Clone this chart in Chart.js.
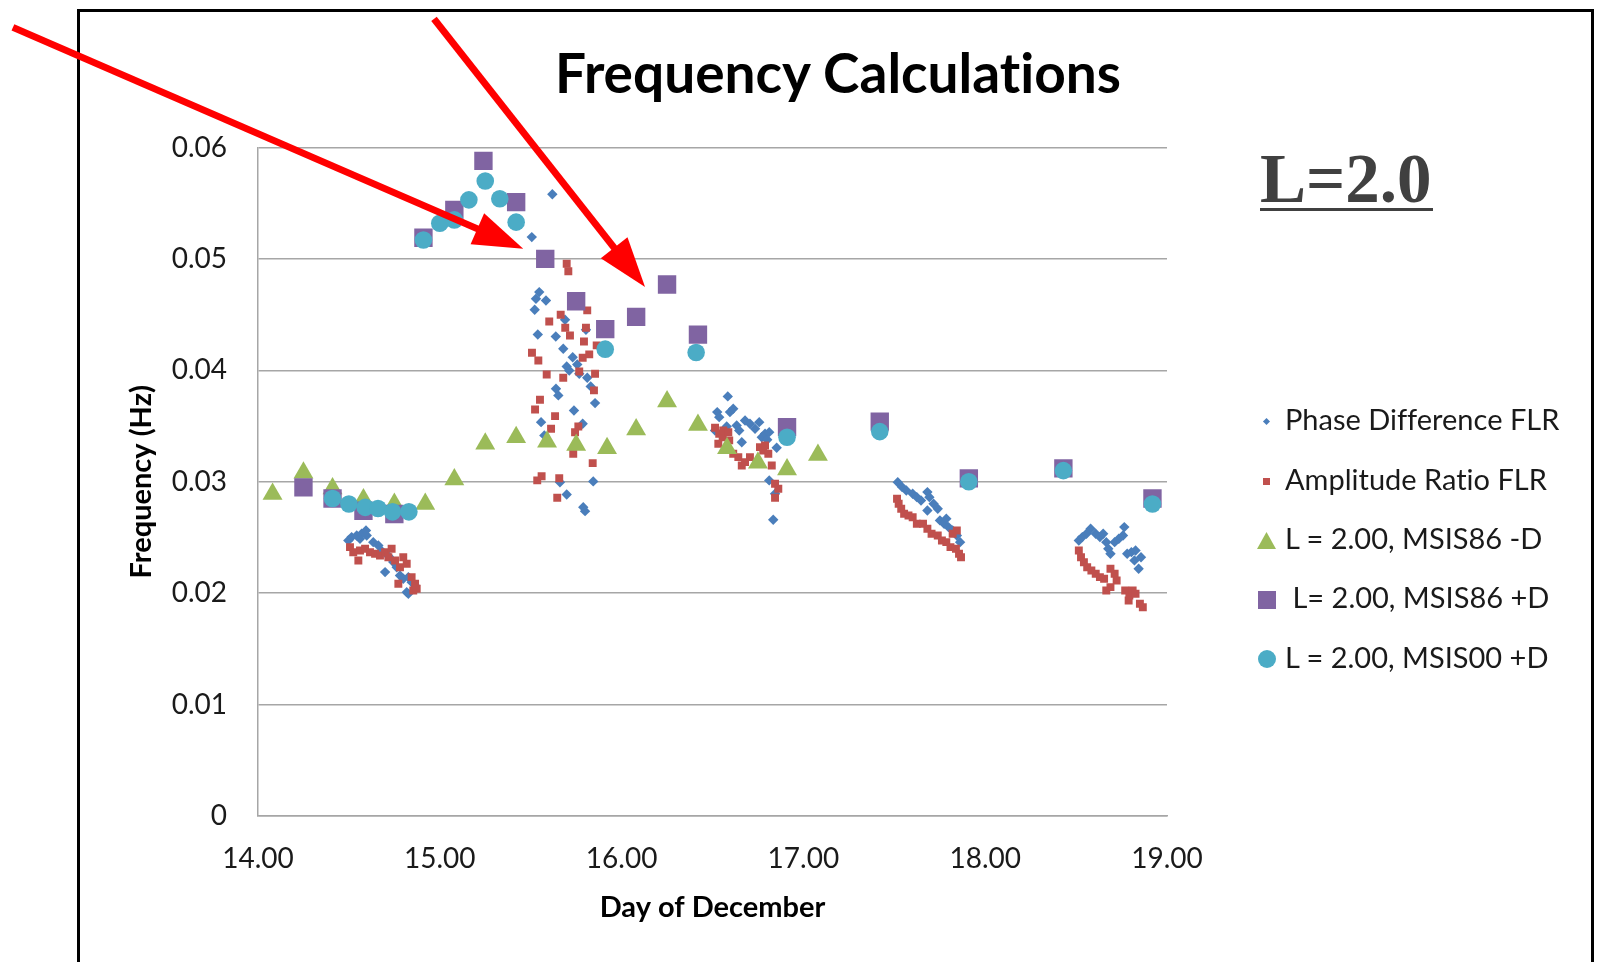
<!DOCTYPE html>
<html>
<head>
<meta charset="utf-8">
<script src="https://cdn.jsdelivr.net/npm/chart.js@4.4.1/dist/chart.umd.min.js"></script>
<style>
  html, body { margin: 0; padding: 0; background: #fff; overflow: hidden; }
  body { width: 1604px; height: 962px; position: relative; font-family: Lato, sans-serif; }
  #frame { position: absolute; left: 77px; top: 9px; width: 1511px; height: 1000px; border: 3px solid #000; }
  #chart { position: absolute; left: 0; top: 0; }
  .txt { position: absolute; white-space: pre; line-height: 1; }
  #title { font: bold 55px Lato; font-variant-ligatures: none; font-feature-settings: "liga" 0, "clig" 0; color: #000; top: 39px; left: 838px; transform: translateX(-50%); }
  #lval { font: bold 69px "Liberation Serif"; color: #404040; left: 1260px; top: 140px; }
  #lline { position: absolute; left: 1260px; top: 207.5px; width: 173px; height: 3px; background: #404040; }
  .leg-text { font: 29px Lato; font-variant-ligatures: none; color: #1a1a1a; left: 1285px; }
  .mk { position: absolute; }
</style>
</head>
<body>
<div id="frame"></div>
<canvas id="chart" width="1604" height="962"></canvas>
<div id="title" class="txt">Frequency Calculations</div>
<div id="lval" class="txt">L=2.0</div>
<div id="lline"></div>
<div id="legend"></div>
<script>
// ---- data ----
const phaseDay = [
  14.497, 14.515, 14.543, 14.561, 14.570, 14.594, 14.598, 14.634, 14.662, 14.680, 14.699, 14.720, 14.744, 14.763, 14.781, 14.799, 14.818, 14.827, 14.827, 14.845, 14.864,
  15.506, 15.522, 15.529, 15.539, 15.547, 15.557, 15.575, 15.584, 15.619, 15.638, 15.639, 15.652, 15.661, 15.679, 15.689, 15.698, 15.698, 15.712, 15.731, 15.738, 15.756, 15.767, 15.786, 15.789, 15.799, 15.804, 15.811, 15.830, 15.844, 15.854,
  16.514, 16.526, 16.537, 16.578, 16.584, 16.596, 16.614, 16.633, 16.647, 16.661, 16.679, 16.706, 16.734, 16.757, 16.771, 16.789, 16.801, 16.812, 16.812, 16.834, 16.844, 16.853,
  17.519, 17.543, 17.566, 17.601, 17.624, 17.647, 17.682, 17.682, 17.693, 17.716, 17.739, 17.751, 17.774, 17.786, 17.798, 17.821, 17.844, 17.862,
  18.515, 18.534, 18.557, 18.580, 18.608, 18.631, 18.649, 18.666, 18.677, 18.689, 18.712, 18.735, 18.758, 18.765, 18.781, 18.804, 18.821, 18.827, 18.844, 18.857
];
const phaseFreq = [
  0.02473, 0.02503, 0.02518, 0.02488, 0.02533, 0.02563, 0.02518, 0.02458, 0.02428, 0.02380, 0.02189, 0.02330, 0.02279, 0.02233, 0.02159, 0.02129, 0.02009, 0.02144, 0.01994, 0.02099, 0.02069,
  0.05196, 0.04544, 0.04643, 0.04322, 0.04702, 0.03535, 0.03416, 0.04627, 0.05581, 0.04304, 0.03835, 0.03775, 0.02996, 0.04194, 0.04454, 0.02886, 0.04035, 0.03999, 0.04118, 0.03640, 0.04053, 0.03969, 0.03521, 0.02772, 0.02736, 0.04364, 0.03934, 0.03856, 0.03003, 0.03706,
  0.03460, 0.03625, 0.03580, 0.03496, 0.03766, 0.03625, 0.03655, 0.03505, 0.03460, 0.03355, 0.03550, 0.03521, 0.03476, 0.03535, 0.03400, 0.03431, 0.03377, 0.03445, 0.03012, 0.02659, 0.02892, 0.03305,
  0.02996, 0.02952, 0.02922, 0.02892, 0.02862, 0.02832, 0.02907, 0.02742, 0.02862, 0.02803, 0.02758, 0.02653, 0.02623, 0.02668, 0.02593, 0.02563, 0.02518, 0.02458,
  0.02473, 0.02503, 0.02533, 0.02578, 0.02533, 0.02503, 0.02533, 0.02458, 0.02399, 0.02354, 0.02458, 0.02488, 0.02518, 0.02593, 0.02354, 0.02368, 0.02294, 0.02383, 0.02219, 0.02323
];

const ampDay = [
  14.506, 14.524, 14.552, 14.561, 14.589, 14.616, 14.644, 14.671, 14.699, 14.717, 14.735, 14.754, 14.772, 14.781, 14.799, 14.818, 14.845, 14.854, 14.864, 14.873,
  15.507, 15.524, 15.536, 15.542, 15.551, 15.560, 15.588, 15.602, 15.612, 15.634, 15.646, 15.657, 15.665, 15.679, 15.690, 15.698, 15.707, 15.716, 15.734, 15.744, 15.762, 15.767, 15.786, 15.793, 15.804, 15.811, 15.822, 15.841, 15.848, 15.854, 15.863,
  16.514, 16.532, 16.537, 16.556, 16.559, 16.587, 16.592, 16.614, 16.642, 16.661, 16.679, 16.706, 16.761, 16.779, 16.789, 16.807, 16.826, 16.844, 16.844, 16.862,
  17.515, 17.524, 17.538, 17.554, 17.578, 17.601, 17.624, 17.658, 17.682, 17.705, 17.739, 17.762, 17.786, 17.809, 17.821, 17.839, 17.844, 17.856, 17.867,
  18.515, 18.527, 18.543, 18.561, 18.584, 18.608, 18.631, 18.654, 18.666, 18.689, 18.689, 18.712, 18.723, 18.770, 18.789, 18.793, 18.811, 18.827, 18.851, 18.867
];
const ampFreq = [
  0.02413, 0.02368, 0.02293, 0.02383, 0.02399, 0.02368, 0.02354, 0.02338, 0.02368, 0.02323, 0.02399, 0.02293, 0.02085, 0.02233, 0.02323, 0.02264, 0.02144, 0.02024, 0.02085, 0.02039,
  0.04158, 0.03649, 0.03012, 0.04089, 0.03736, 0.03050, 0.03963, 0.04439, 0.03476, 0.03589, 0.02856, 0.03032, 0.04499, 0.03934, 0.04382, 0.04957, 0.04890, 0.04313, 0.03251, 0.03445, 0.03496, 0.03990, 0.04113, 0.04259, 0.04382, 0.04538, 0.04143, 0.03167, 0.03820, 0.03969, 0.04224,
  0.03485, 0.03341, 0.03431, 0.03400, 0.03461, 0.03445, 0.03371, 0.03251, 0.03221, 0.03146, 0.03176, 0.03221, 0.03311, 0.03281, 0.03326, 0.03251, 0.03146, 0.02982, 0.02856, 0.02937,
  0.02847, 0.02803, 0.02758, 0.02713, 0.02697, 0.02682, 0.02623, 0.02623, 0.02578, 0.02533, 0.02518, 0.02473, 0.02458, 0.02413, 0.02533, 0.02399, 0.02563, 0.02354, 0.02323,
  0.02383, 0.02323, 0.02278, 0.02233, 0.02204, 0.02174, 0.02144, 0.02129, 0.02024, 0.02219, 0.02054, 0.02174, 0.02114, 0.02024, 0.01934, 0.01979, 0.02024, 0.01995, 0.01905, 0.01874
];

const msis86NoDDay = [14.08, 14.25, 14.41, 14.58, 14.75, 14.92, 15.08, 15.25, 15.42, 15.59, 15.75, 15.92, 16.08, 16.25, 16.42, 16.58, 16.75, 16.91, 17.08];
const msis86NoDFreq = [0.0289, 0.0308, 0.0294, 0.0284, 0.0280, 0.0280, 0.0302, 0.0334, 0.0340, 0.0336, 0.0333, 0.0330, 0.0347, 0.0372, 0.0351, 0.0330, 0.0317, 0.0311, 0.0324];

const msis86DDay = [14.25, 14.41, 14.58, 14.75, 14.91, 15.08, 15.24, 15.42, 15.58, 15.75, 15.91, 16.08, 16.25, 16.42, 16.91, 17.42, 17.91, 18.43, 18.92];
const msis86DFreq = [0.0295, 0.0285, 0.0274, 0.0271, 0.0519, 0.0544, 0.0588, 0.0551, 0.0500, 0.0462, 0.0437, 0.0448, 0.0477, 0.0432, 0.0349, 0.0354, 0.0303, 0.0312, 0.0285];

const msis00DDay = [14.41, 14.50, 14.59, 14.66, 14.74, 14.83, 14.91, 15.00, 15.08, 15.16, 15.25, 15.33, 15.42, 15.91, 16.41, 16.91, 17.42, 17.91, 18.43, 18.92];
const msis00DFreq = [0.0285, 0.0280, 0.0277, 0.0276, 0.0273, 0.0273, 0.0517, 0.0532, 0.0535, 0.0553, 0.0570, 0.0554, 0.0533, 0.0419, 0.0416, 0.0340, 0.0345, 0.0300, 0.0310, 0.0280];

const seriesNames = ['Phase Difference FLR', 'Amplitude Ratio FLR', 'L = 2.00, MSIS86 -D', ' L= 2.00, MSIS86 +D', 'L = 2.00, MSIS00 +D'];
const xTicks = [14, 15, 16, 17, 18, 19];
const yTicks = [0, 0.01, 0.02, 0.03, 0.04, 0.05, 0.06];

// red call-out arrows, tail -> tip in axis units
const arrows = [
  { from: [12.652, 0.07078], to: [15.459, 0.05092] },
  { from: [14.968, 0.07154], to: [16.129, 0.04747] },
];

const colors = {
  blue: '#4a7ebb',
  red: '#c0504d',
  green: '#9bbb59',
  purple: '#8064a2',
  cyan: '#4bacc6',
};

const pts = (xs, ys) => xs.map((x, i) => ({ x, y: ys[i] }));

const series = [
  { name: seriesNames[0], data: pts(phaseDay, phaseFreq), color: colors.blue, style: 'rectRot', radius: 5.2, order: 5 },
  { name: seriesNames[1], data: pts(ampDay, ampFreq), color: colors.red, style: 'rect', radius: 5.6, order: 4 },
  { name: seriesNames[2], data: pts(msis86NoDDay, msis86NoDFreq), color: colors.green, style: 'triangle', radius: 11.5, order: 3 },
  { name: seriesNames[3], data: pts(msis86DDay, msis86DFreq), color: colors.purple, style: 'rect', radius: 13, order: 2 },
  { name: seriesNames[4], data: pts(msis00DDay, msis00DFreq), color: colors.cyan, style: 'circle', radius: 8.8, order: 1 },
];

const arrowPlugin = {
  id: 'arrows',
  afterDraw(chart) {
    const { ctx, scales: { x, y } } = chart;
    ctx.save();
    ctx.strokeStyle = '#ff0000';
    ctx.fillStyle = '#ff0000';
    ctx.lineWidth = 7;
    arrows.forEach(a => {
      const x0 = x.getPixelForValue(a.from[0]), y0 = y.getPixelForValue(a.from[1]);
      const x1 = x.getPixelForValue(a.to[0]), y1 = y.getPixelForValue(a.to[1]);
      const ang = Math.atan2(y1 - y0, x1 - x0);
      const headLen = 50, headHalf = 17;
      const bx = x1 - Math.cos(ang) * headLen, by = y1 - Math.sin(ang) * headLen;
      ctx.beginPath();
      ctx.moveTo(x0, y0);
      ctx.lineTo(bx + Math.cos(ang) * 4, by + Math.sin(ang) * 4);
      ctx.stroke();
      ctx.beginPath();
      ctx.moveTo(x1, y1);
      ctx.lineTo(bx - Math.sin(ang) * headHalf, by + Math.cos(ang) * headHalf);
      ctx.lineTo(bx + Math.sin(ang) * headHalf, by - Math.cos(ang) * headHalf);
      ctx.closePath();
      ctx.fill();
    });
    ctx.restore();
  }
};

const tickFont = { family: 'Lato', size: 28 };
const titleFont = { family: 'Lato', size: 29, weight: 'bold' };

new Chart(document.getElementById('chart'), {
  type: 'scatter',
  data: {
    datasets: series.map(s => ({
      label: s.name,
      data: s.data,
      pointStyle: s.style,
      pointRadius: s.radius,
      pointHoverRadius: s.radius,
      pointBackgroundColor: s.color,
      pointBorderColor: s.color,
      pointBorderWidth: 0,
      order: s.order,
    }))
  },
  options: {
    responsive: false,
    animation: false,
    layout: { padding: { left: 0, right: 437, top: 147.5, bottom: 0 } },
    plugins: {
      legend: { display: false },
      tooltip: { enabled: false },
    },
    scales: {
      x: {
        type: 'linear',
        min: xTicks[0],
        max: xTicks[xTicks.length - 1],
        afterBuildTicks: s => { s.ticks = xTicks.map(v => ({ value: v })); },
        ticks: { font: tickFont, color: '#1a1a1a', padding: 26, callback: v => v.toFixed(2) },
        grid: { display: false, drawTicks: false },
        border: { color: '#a6a6a6', width: 1.5 },
        title: { display: true, text: 'Day of December', font: titleFont, color: '#000', padding: { top: 0, bottom: 37 } },
        afterFit: s => { s.height = 146; },
      },
      y: {
        min: yTicks[0],
        max: yTicks[yTicks.length - 1],
        afterBuildTicks: s => { s.ticks = yTicks.map(v => ({ value: v })); },
        ticks: { font: tickFont, color: '#1a1a1a', padding: 31, callback: v => v === 0 ? '0' : v.toFixed(2) },
        grid: { color: '#a6a6a6', lineWidth: 1.5, drawTicks: false },
        border: { color: '#a6a6a6', width: 1.5 },
        title: { display: true, text: 'Frequency (Hz)', font: titleFont, color: '#000', padding: { top: 124, bottom: 0 } },
        afterFit: s => { s.width = 258; },
      }
    }
  },
  plugins: [arrowPlugin]
});

// ---- legend (html) ----
const legend = document.getElementById('legend');
const legendTop = 421.7, legendStep = 59.4, markerX = 1266.5;
const markerCss = {
  rectRot: 'width:5px;height:5px;transform:rotate(45deg);',
  rect: '',
  triangle: 'clip-path:polygon(50% 0,100% 100%,0 100%);',
  circle: 'border-radius:50%;',
};
const markerSize = [[5, 5], [7, 7], [19, 17], [18, 18], [18, 18]];
series.forEach((s, i) => {
  const cy = legendTop + i * legendStep;
  const [w, h] = markerSize[i];
  const m = document.createElement('div');
  m.className = 'mk';
  m.style.cssText = `left:${markerX - w / 2}px;top:${cy - h / 2}px;width:${w}px;height:${h}px;background:${s.color};` + markerCss[s.style];
  legend.appendChild(m);
  const t = document.createElement('div');
  t.className = 'txt leg-text';
  t.style.top = (cy - 20.5) + 'px';
  t.textContent = s.name;
  legend.appendChild(t);
});
</script>
</body>
</html>
